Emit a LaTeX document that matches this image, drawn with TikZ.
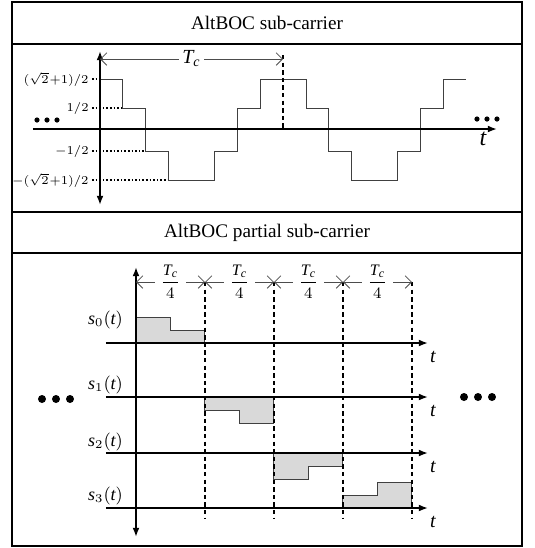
\documentclass[tikz,border=0pt]{standalone}
\usepackage{amsmath}
\usepackage{fontspec}
\setmainfont{Liberation Serif}
\usetikzlibrary{arrows.meta}
\tikzset{
  keret/.style={draw,line width=0.7pt},
  tengely/.style={line width=0.8pt,-{Latex[length=1.6mm,width=1.2mm]}},
  kettos/.style={line width=0.8pt,{Latex[length=1.6mm,width=1.2mm]}-{Latex[length=1.6mm,width=1.2mm]}},
  jel/.style={line width=0.5pt,black!75},
  szag/.style={line width=0.9pt,dash pattern=on 2.2pt off 1.6pt},
  pontoz/.style={line width=0.8pt,densely dotted},
  mer/.style={line width=0.4pt,black!70,{Straight Barb[length=1.1mm]}-{Straight Barb[length=1.1mm]}},
  petty/.style={circle,fill,inner sep=0pt},
  cimke/.style={font=\fontsize{6.5}{8}\selectfont},
  cim/.style={font=\fontsize{9.6}{11}\selectfont},
}

\begin{document}
\begin{tikzpicture}[x=0.5pt,y=-0.5pt]
  \useasboundingbox (0,0) rectangle (535,548);
  \draw[keret] (12,2) rectangle (522,546);
  \draw[keret] (12,44) -- (522,44) (12,212) -- (522,212) (12,253) -- (522,253);
  \node[cim] (cim1) at (267,23) {AltBOC sub-carrier};
  \node[cim] (cim2) at (267,233) {AltBOC partial sub-carrier};

  % AltBOC sub-carrier
  \foreach \y/\x in {79/100,108/122.9,151/145.8,180/168.7}
    \draw[pontoz] (92,\y) -- (\x,\y);
  \foreach \y/\szov [count=\k] in {79/{$(\sqrt{2}\mkern1mu{+}1)/2$},108/{$1/2$},
      151/{$-1/2$},180/{$-(\sqrt{2}\mkern1mu{+}1)/2$}}
    \node[cimke,anchor=east,inner sep=1pt] (szint\k) at (91,\y) {\szov};
  \draw[jel] (100,79) -- (122.9,79) |- (145.8,108) |- (168.7,151) |- (214.5,180)
    |- (237.4,151) |- (260.3,108) |- (306.1,79) |- (329,108) |- (351.9,151)
    |- (397.7,180) |- (420.6,151) |- (443.5,108) |- (466.4,79);
  \draw[tengely] (33,129) -- (497,129);
  \draw[kettos] (100,205) -- (100,51);
  \draw[szag] (283,55) -- (283,129);
  \draw[mer] (100,59) -- node[fill=white,text=black,inner sep=1.5pt,font=\fontsize{10}{12}\selectfont]
    (tc) {$\textit{T}_{\textit{c}}$} (283,59);
  \node[font=\fontsize{12}{14}\selectfont\itshape] (t) at (483,139) {t};
  \foreach \x [count=\k] in {37,47,57}
    \node[petty,minimum size=2.6pt] (bal\k) at (\x,120) {};
  \foreach \x [count=\k] in {477,487,497}
    \node[petty,minimum size=2.6pt] (jobb\k) at (\x,119) {};

  % AltBOC partial sub-carrier
  \foreach \i/\y/\a/\b/\ly in {0/343/-26/-13/320,1/397/13/26/385,
      2/453/26/13/442,3/508/-13/-26/496}{
    \filldraw[jel,fill=black!15] ({136+69*\i},\y) |- ({170.5+69*\i},{\y+\a})
      |- ({205+69*\i},{\y+\b}) -- ({205+69*\i},\y) -- cycle;
    \node[font=\fontsize{9}{11}\selectfont,anchor=east] (s\i) at (130,\ly)
      {$\textit{s}_{\i}(\textit{t})$};
    \node[font=\fontsize{10}{12}\selectfont\itshape] (t\i) at (433,{\y+14}) {t};
  }
  \foreach \i in {1,...,4}
    \draw[szag] ({136+69*\i},282) -- ({136+69*\i},518);
  \foreach \y in {343,397,453,508}
    \draw[tengely] (106,\y) -- (428,\y);
  \draw[kettos] (136,537) -- (136,267);
  \foreach \i in {0,...,3}
    \draw[mer] ({136+69*\i},282) -- node[fill=white,text=black,inner sep=2.5pt,font=\fontsize{8}{9}\selectfont]
      (f\i) {$\displaystyle\frac{\textit{T}_{\textit{c}}}{4}$} ({205+69*\i},282);
  \foreach \x [count=\k] in {42,56,70}
    \node[petty,minimum size=4pt] (bb\k) at (\x,399) {};
  \foreach \x [count=\k] in {464,478,492}
    \node[petty,minimum size=4pt] (jb\k) at (\x,397) {};
\end{tikzpicture}
\end{document}
